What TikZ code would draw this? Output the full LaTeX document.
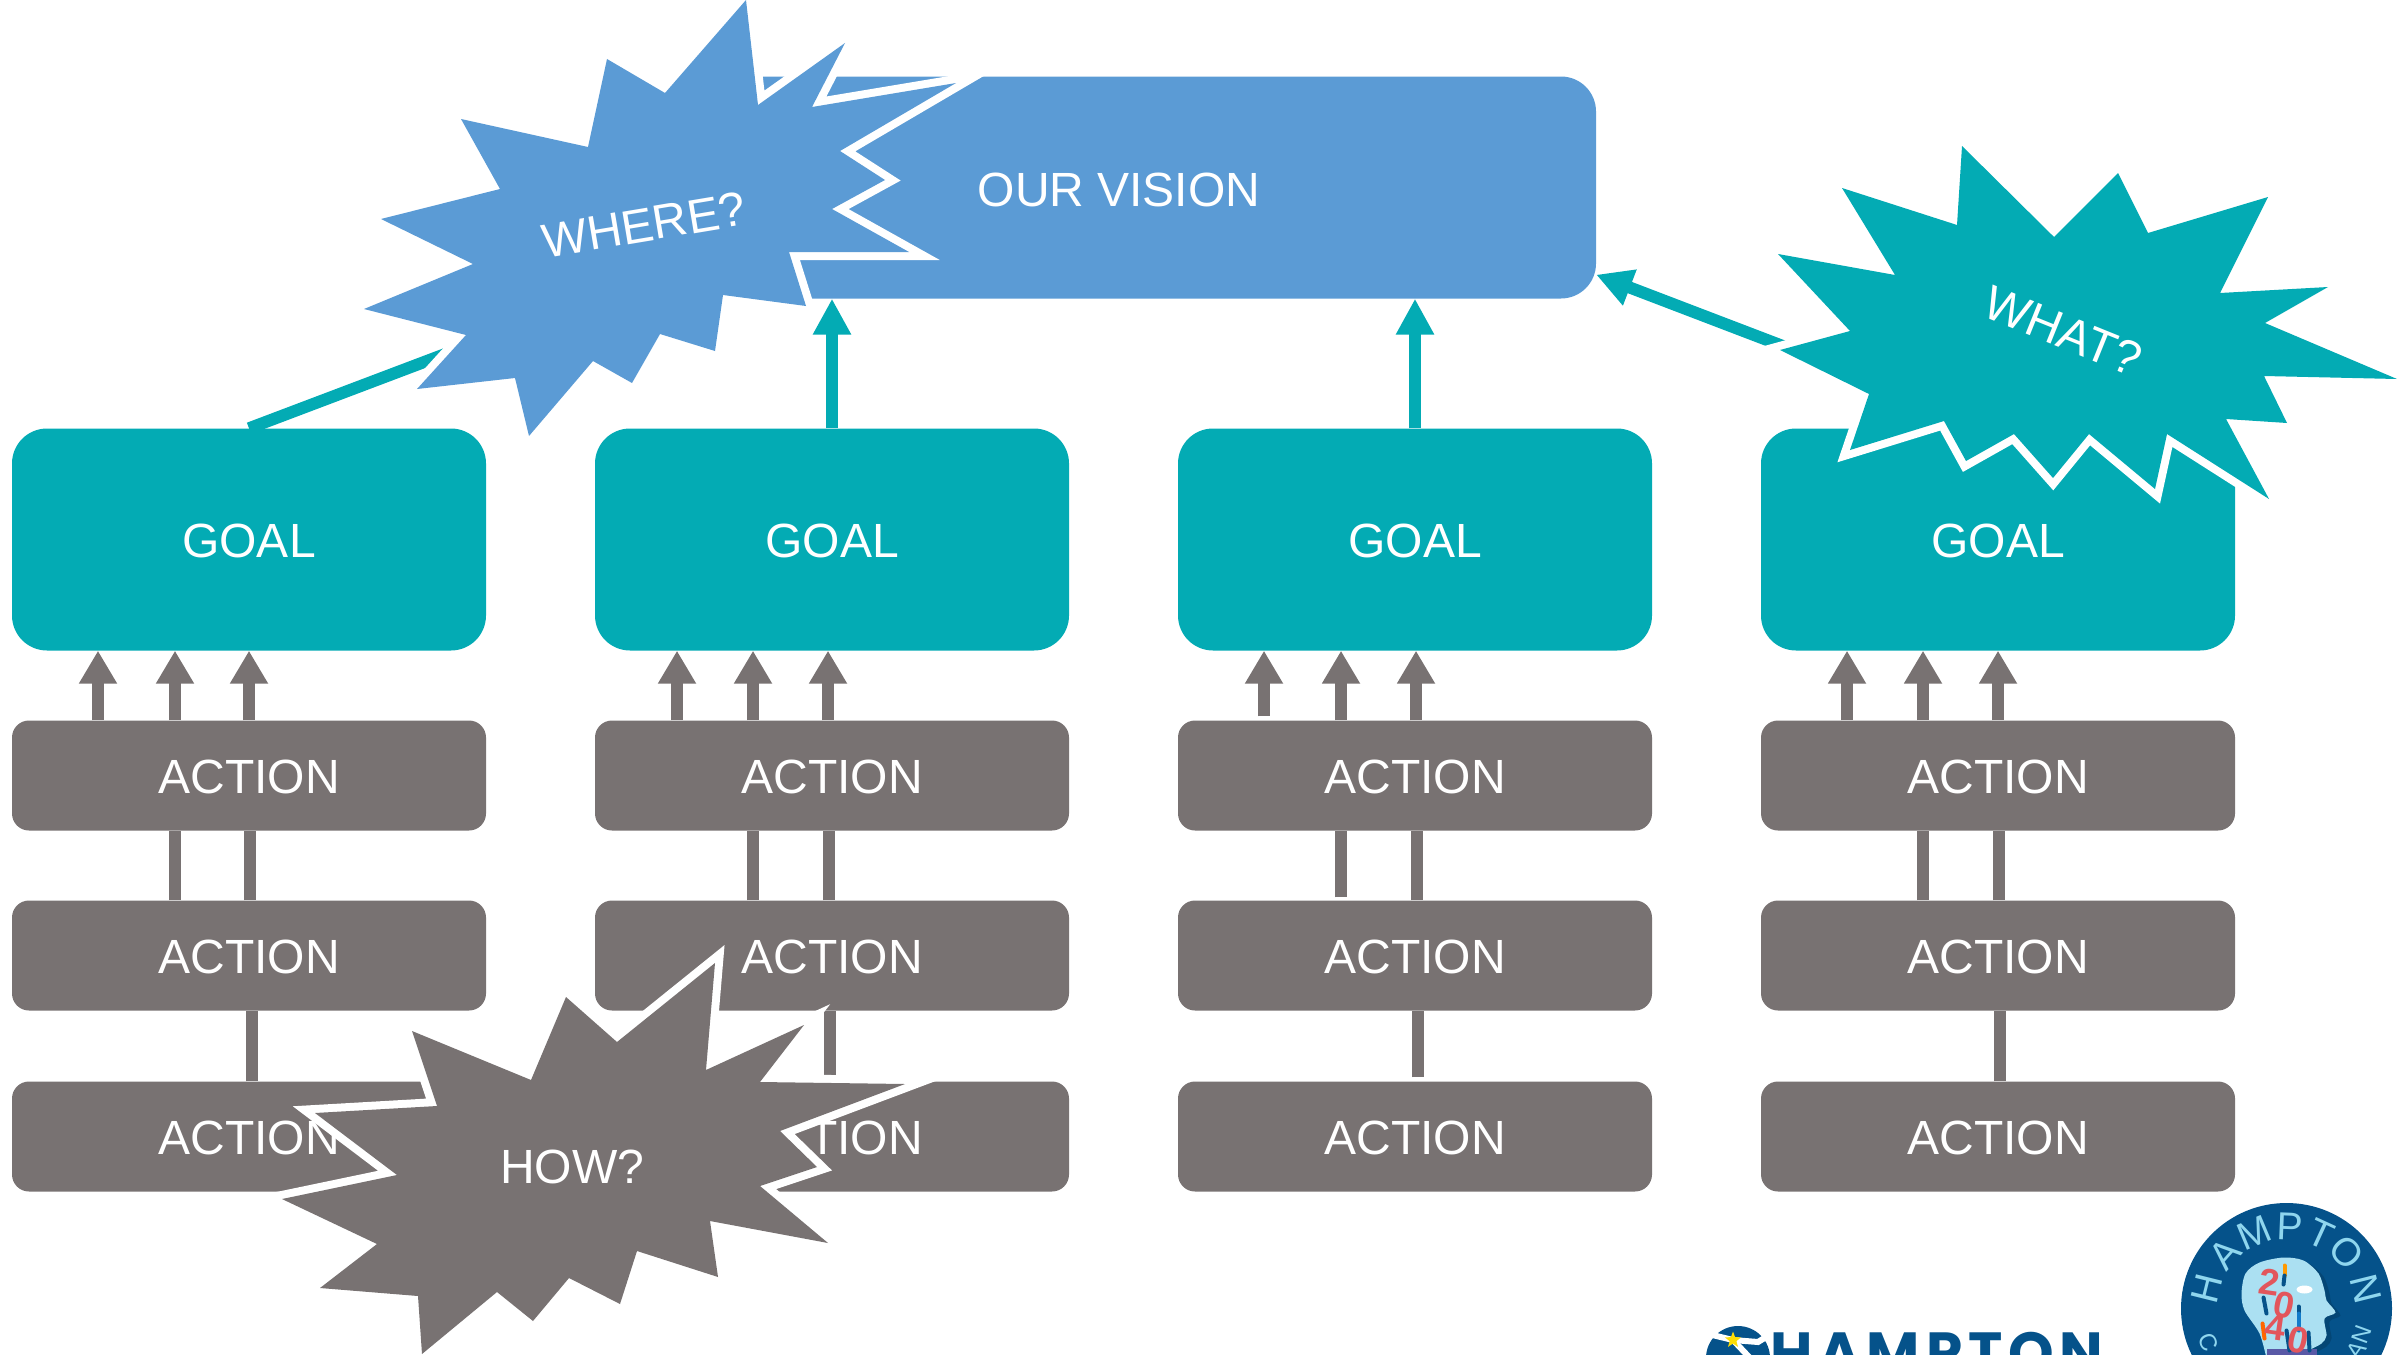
\documentclass[tikz,border=0pt]{standalone}
\usepackage{fontspec}
\setmainfont{Liberation Sans}
\newfontfamily\wordfont{Poppins}
\usepackage{tikz}
\usetikzlibrary{arrows.meta,shapes.geometric}
\definecolor{visionblue}{HTML}{5B9BD5}
\definecolor{goalteal}{HTML}{03ABB4}
\definecolor{actiongray}{HTML}{787272}
\definecolor{logoblue}{HTML}{05528A}
\definecolor{logosky}{HTML}{8FD6EE}
\definecolor{logored}{HTML}{E2565C}
\tikzset{
    vision/.style={
           draw=none,
           fill=visionblue,
           text=white,
           rounded corners=35pt,
           minimum width=941pt,
           minimum height=222pt,
           inner sep=0pt,
           text height=37pt,
           text depth=0pt,
           font=\fontsize{48}{48}\selectfont,
           },
}
\tikzset{
    goal/.style={
           draw=none,
           fill=goalteal,
           text=white,
           rounded corners=35pt,
           minimum width=474pt,
           minimum height=222pt,
           inner sep=0pt,
           text height=36pt,
           text depth=0pt,
           font=\fontsize{48}{48}\selectfont,
           },
}
\tikzset{
    action/.style={
           draw=none,
           fill=actiongray,
           text=white,
           rounded corners=17pt,
           minimum width=474pt,
           minimum height=110pt,
           inner sep=0pt,
           text height=36pt,
           text depth=0pt,
           font=\fontsize{48}{48}\selectfont,
           },
}
\tikzset{
    grayarrow/.style={draw=actiongray,line width=12pt,-{Triangle[width=36pt,length=33pt]}},
    grayline/.style={draw=actiongray,line width=12pt},
    tealarrow/.style={draw=goalteal,line width=12pt,-{Triangle[width=36pt,length=36pt]}},
    burst/.style={fill=#1,preaction={draw=white,line width=16pt}},
    burstlabel/.style={text=white,inner sep=0pt,font=\fontsize{48}{48}\selectfont},
    bigletter/.style={text=logosky,inner sep=0pt,font=\fontsize{39}{39}\selectfont},
    smallletter/.style={text=logosky,inner sep=0pt,font=\fontsize{24}{24}\selectfont},
    digit/.style={text=logored,inner sep=0pt,font=\bfseries\fontsize{37}{37}\selectfont},
    person/.style={line width=4pt,line cap=round},
}

\begin{document}
\begin{tikzpicture}[x=1pt,y=1pt]
\path[use as bounding box,clip] (0,0) rectangle (2397,-1354);
\node[vision](vision) at (1125.5,-187.5){OUR VISION\kern13pt};
\node[goal](goal1) at (249,-539.5){GOAL};
\node[goal,right of = goal1,node distance=583pt](goal2){GOAL};
\node[goal,right of = goal2,node distance=583pt](goal3){GOAL};
\node[goal,right of = goal3,node distance=583pt](goal4){GOAL};
\node[action,below of = goal1,node distance=236pt](action11){ACTION};
\node[action,below of = action11,node distance=180pt](action12){ACTION};
\node[action,below of = action12,node distance=181pt](action13){ACTION};
\node[action,below of = goal2,node distance=236pt](action21){ACTION};
\node[action,below of = action21,node distance=180pt](action22){ACTION};
\node[action,below of = action22,node distance=181pt](action23){ACTION};
\node[action,below of = goal3,node distance=236pt](action31){ACTION};
\node[action,below of = action31,node distance=180pt](action32){ACTION};
\node[action,below of = action32,node distance=181pt](action33){ACTION};
\node[action,below of = goal4,node distance=236pt](action41){ACTION};
\node[action,below of = action41,node distance=180pt](action42){ACTION};
\node[action,below of = action42,node distance=181pt](action43){ACTION};
\path (goal1.north) edge[tealarrow] ([yshift=24pt]vision.south west);
\path (goal2.north) edge[tealarrow] (goal2.north |- vision.south);
\path (goal3.north) edge[tealarrow] (goal3.north |- vision.south);
\path (goal4.north) edge[tealarrow] ([yshift=24pt]vision.south east);
\path ([xshift=-151pt]action11.north) edge[grayarrow] ([xshift=-151pt]goal1.south);
\path ([xshift=-74pt]action11.north) edge[grayarrow] ([xshift=-74pt]goal1.south);
\path (action11.north) edge[grayarrow] (goal1.south);
\path ([xshift=-74pt]action12.north) edge[grayline] ([xshift=-74pt]action11.south);
\path ([xshift=1pt]action12.north) edge[grayline] ([xshift=1pt]action11.south);
\path ([xshift=3pt]action13.north) edge[grayline] ([xshift=3pt]action12.south);
\path ([xshift=-155pt]action21.north) edge[grayarrow] ([xshift=-155pt]goal2.south);
\path ([xshift=-79pt]action21.north) edge[grayarrow] ([xshift=-79pt]goal2.south);
\path ([xshift=-4pt]action21.north) edge[grayarrow] ([xshift=-4pt]goal2.south);
\path ([xshift=-79pt]action22.north) edge[grayline] ([xshift=-79pt]action21.south);
\path ([xshift=-3pt]action22.north) edge[grayline] ([xshift=-3pt]action21.south);
\path ([xshift=-2pt,yshift=6pt]action23.north) edge[grayline] ([xshift=-2pt]action22.south);
\path ([xshift=-151pt,yshift=4pt]action31.north) edge[grayarrow] ([xshift=-151pt]goal3.south);
\path ([xshift=-74pt]action31.north) edge[grayarrow] ([xshift=-74pt]goal3.south);
\path ([xshift=1pt]action31.north) edge[grayarrow] ([xshift=1pt]goal3.south);
\path ([xshift=-74pt,yshift=3pt]action32.north) edge[grayline] ([xshift=-74pt]action31.south);
\path ([xshift=2pt]action32.north) edge[grayline] ([xshift=2pt]action31.south);
\path ([xshift=3pt,yshift=4pt]action33.north) edge[grayline] ([xshift=3pt]action32.south);
\path ([xshift=-151pt]action41.north) edge[grayarrow] ([xshift=-151pt]goal4.south);
\path ([xshift=-75pt]action41.north) edge[grayarrow] ([xshift=-75pt]goal4.south);
\path (action41.north) edge[grayarrow] (goal4.south);
\path ([xshift=-75pt]action42.north) edge[grayline] ([xshift=-75pt]action41.south);
\path ([xshift=1pt]action42.north) edge[grayline] ([xshift=1pt]action41.south);
\path ([xshift=2pt]action43.north) edge[grayline] ([xshift=2pt]action42.south);
\path[burst=visionblue] (746,0) -- (758,-105) -- (845,-43) -- (812,-107) -- (956,-83) -- (840,-151) -- (885,-180) -- (832,-209) -- (909,-252) -- (789,-252) -- (806,-306) -- (723,-295) -- (715,-351) -- (660,-334) -- (632,-383) -- (593,-361) -- (529,-436) -- (515,-378) -- (417,-389) -- (466,-335) -- (364,-309) -- (473,-264) -- (381,-219) -- (500,-189) -- (461,-119) -- (588,-147) -- (607,-59) -- (665,-93) -- cycle;
\node[burstlabel,rotate=9.5](where) at (644,-225){WHERE?};
\path[burst=goalteal] (1962,-146) -- (2054,-237) -- (2118,-173) -- (2148,-233) -- (2268,-197) -- (2220,-293) -- (2328,-287) -- (2265,-323) -- (2397,-379) -- (2264,-376) -- (2287,-423) -- (2226,-419) -- (2269,-499) -- (2167,-434) -- (2155,-489) -- (2089,-434) -- (2053,-478) -- (2014,-434) -- (1966,-461) -- (1944,-421) -- (1850,-450) -- (1869,-394) -- (1780,-350) -- (1850,-331) -- (1778,-254) -- (1895,-275) -- (1842,-188) -- (1957,-225) -- cycle;
\node[burstlabel,rotate=-22](what) at (2063,-331){WHAT?};
\path[burst=actiongray] (617,-1042) -- (715,-963) -- (706,-1070) -- (804,-1025) -- (760,-1082) -- (905,-1084) -- (780,-1131) -- (817,-1167) -- (760,-1186) -- (828,-1243) -- (710,-1221) -- (718,-1277) -- (637,-1251) -- (620,-1304) -- (569,-1278) -- (533,-1321) -- (497,-1292) -- (422,-1354) -- (418,-1296) -- (320,-1288) -- (377,-1244) -- (282,-1199) -- (397,-1175) -- (315,-1113) -- (437,-1106) -- (412,-1031) -- (531,-1080) -- (566,-997) -- cycle;
\node[burstlabel](how) at (572,-1167){HOW?};
\fill[logoblue] (1738,-1358) circle (32);
\draw[white,line width=6pt] (1733,-1340) -- (1700,-1332);
\draw[white,line width=6pt] (1733,-1340) -- (1758,-1342) -- (1774,-1332);
\draw[white,line width=6pt] (1733,-1340) -- (1750,-1358);
\node[star,star points=5,star point ratio=2.4,fill=yellow!80!orange,inner sep=0pt,minimum size=17pt](wordstar) at (1733,-1340){};
\node[anchor=base west,inner sep=0pt,text=logoblue,font=\wordfont\bfseries\fontsize{58}{58}\selectfont](wordmark) at (1770,-1373){\addfontfeature{LetterSpace=10}HAMPTON};
\begin{scope}[shift={(2286.5,-1308.5)}]
\fill[logoblue] (0,0) circle (105.5);
\fill[logoblue!85!black] plot[smooth,tension=.5] coordinates {(-15,-50) (-22,-28) (-37,-5) (-40,12) (-36,32) (-22,43) (2,48) (22,45) (37,32) (43,15) (45,5) (54,-7) (43,-13) (45,-30) (40,-38) (28,-45) (28,-50)};
\fill[logosky!75!white] plot[smooth,tension=.5] coordinates {(-20,-50) (-27,-25) (-42,-2) (-45,15) (-41,35) (-27,46) (-3,51) (17,48) (32,35) (38,18) (40,8) (49,-4) (38,-10) (40,-27) (35,-35) (23,-42) (23,-50)};
\fill[blue!30!gray] (-20,-40) rectangle (30,-50);
\fill[white] (18,19) ellipse (8 and 4);
\draw[person,draw=logoblue] (-23,11) -- (-20,-5);
\draw[person,draw=logoblue] (12,2) -- (12,-5);
\draw[person,draw=cyan!60!blue] (12,-5) -- (12,-22);
\draw[person,draw=orange!80!yellow] (-2,43) -- (-2,33);
\draw[person,draw=logoblue] (-2,33) -- (-3,24);
\draw[person,draw=orange!80!red] (-24,-15) -- (-22,-30);
\draw[person,draw=logoblue] (0,-22) -- (3,-42);
\draw[person,draw=logoblue] (22,-24) -- (23,-42);
\node[digit,rotate=-8](digita) at (-17,26){2};
\node[digit,rotate=-12](digitb) at (-2,3){0};
\node[digit,rotate=-8](digitc) at (-11,-19){4};
\node[digit,rotate=-12](digitd) at (12,-32){0};
\node[bigletter,rotate=76](lettera) at (166:82){H};
\node[bigletter,rotate=48.6](letterb) at (138.6:82){A};
\node[bigletter,rotate=22.8](letterc) at (112.8:82){M};
\node[bigletter,rotate=-2.3](letterd) at (87.7:82){P};
\node[bigletter,rotate=-24.6](lettere) at (65.4:82){T};
\node[bigletter,rotate=-47](letterf) at (43:82){O};
\node[bigletter,rotate=-76](letterg) at (14:82){N};
\node[smallletter,rotate=-67](lowera) at (-78.3,-33.7){C};
\node[smallletter,rotate=70](lowerb) at (75.5,-26){N};
\node[smallletter,rotate=55](lowerc) at (70,-42){A};
\end{scope}
\end{tikzpicture}
\end{document}
